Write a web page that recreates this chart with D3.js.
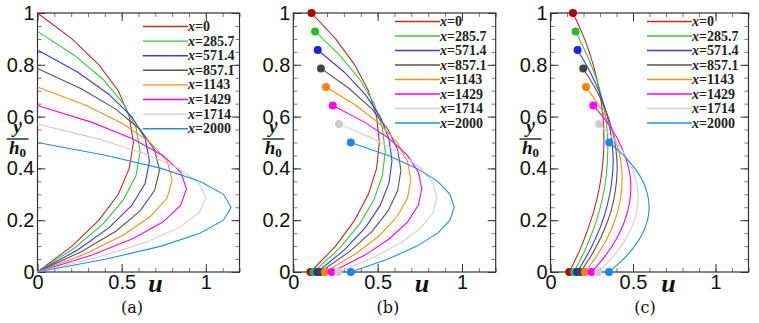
<html>
<script src="https://d3js.org/d3.v7.min.js"></script>
<style>
body{margin:0;background:#fff;}
.tick text{font-family:"Liberation Sans",Arial,sans-serif;font-size:20px;fill:#111;}
.legend text{font-family:"Liberation Serif",serif;font-size:14px;font-weight:bold;fill:#222;}
.axlab{font-family:"Liberation Serif",serif;font-weight:bold;font-style:italic;fill:#111;}
.cap{font-family:"DejaVu Serif",serif;font-size:16px;fill:#111;}
</style>
<body>
<script>
// streamwise stations and local film height y/h0 at each
const stations = ["0", "285.7", "571.4", "857.1", "1143", "1429", "1714", "2000"];
const heights = [1, 0.929, 0.857, 0.786, 0.714, 0.643, 0.571, 0.5];
// sample positions across the layer, as fraction of local height
const eta = [0, 0.1, 0.2, 0.3, 0.4, 0.5, 0.6, 0.7, 0.8, 0.9, 1];

// (a) no-slip profiles
const uA = [
  [0, 0.205, 0.365, 0.48, 0.545, 0.57, 0.545, 0.48, 0.365, 0.205, 0],
  [0, 0.22, 0.39, 0.51, 0.585, 0.61, 0.585, 0.51, 0.39, 0.22, 0],
  [0, 0.24, 0.425, 0.56, 0.64, 0.665, 0.64, 0.56, 0.425, 0.24, 0],
  [0, 0.26, 0.465, 0.61, 0.695, 0.725, 0.695, 0.61, 0.465, 0.26, 0],
  [0, 0.29, 0.51, 0.67, 0.77, 0.8, 0.77, 0.67, 0.51, 0.29, 0],
  [0, 0.32, 0.565, 0.745, 0.85, 0.885, 0.85, 0.745, 0.565, 0.32, 0],
  [0, 0.36, 0.64, 0.84, 0.96, 1.0, 0.96, 0.84, 0.64, 0.36, 0],
  [0, 0.41, 0.735, 0.965, 1.105, 1.15, 1.105, 0.965, 0.735, 0.41, 0]
];
// (b) slip at both walls
const uB = [
  [0.102, 0.251, 0.364, 0.445, 0.494, 0.51, 0.494, 0.445, 0.364, 0.251, 0.108],
  [0.12, 0.276, 0.394, 0.478, 0.528, 0.545, 0.528, 0.478, 0.394, 0.276, 0.129],
  [0.143, 0.303, 0.427, 0.515, 0.567, 0.585, 0.567, 0.515, 0.427, 0.303, 0.145],
  [0.16, 0.333, 0.467, 0.562, 0.619, 0.638, 0.619, 0.562, 0.467, 0.333, 0.164],
  [0.188, 0.373, 0.514, 0.616, 0.677, 0.697, 0.677, 0.616, 0.514, 0.373, 0.194],
  [0.228, 0.422, 0.57, 0.677, 0.741, 0.762, 0.741, 0.677, 0.57, 0.422, 0.234],
  [0.267, 0.478, 0.641, 0.758, 0.828, 0.851, 0.828, 0.758, 0.641, 0.478, 0.271],
  [0.341, 0.562, 0.733, 0.856, 0.929, 0.954, 0.929, 0.856, 0.733, 0.562, 0.341]
];
// (c) stronger slip
const uC = [
  [0.114, 0.188, 0.245, 0.288, 0.314, 0.324, 0.318, 0.296, 0.259, 0.206, 0.136],
  [0.142, 0.215, 0.272, 0.313, 0.338, 0.347, 0.342, 0.318, 0.28, 0.222, 0.152],
  [0.162, 0.24, 0.301, 0.344, 0.37, 0.38, 0.37, 0.345, 0.302, 0.241, 0.164],
  [0.182, 0.261, 0.322, 0.367, 0.393, 0.404, 0.397, 0.373, 0.332, 0.273, 0.198],
  [0.209, 0.29, 0.353, 0.398, 0.425, 0.434, 0.426, 0.399, 0.355, 0.294, 0.215],
  [0.249, 0.334, 0.4, 0.447, 0.476, 0.487, 0.479, 0.45, 0.406, 0.342, 0.259],
  [0.289, 0.376, 0.443, 0.492, 0.521, 0.531, 0.522, 0.494, 0.447, 0.381, 0.295],
  [0.354, 0.442, 0.51, 0.559, 0.588, 0.598, 0.588, 0.56, 0.511, 0.443, 0.356]
];

const xMajor = [0, 0.5, 1];
const yMajor = [0, 0.2, 0.4, 0.6, 0.8, 1];
const xMinor = [0, 0.1, 0.2, 0.3, 0.4, 0.5, 0.6, 0.7, 0.8, 0.9, 1, 1.1, 1.2];
const yMinor = [0, 0.05, 0.1, 0.15, 0.2, 0.25, 0.3, 0.35, 0.4, 0.45, 0.5, 0.55, 0.6, 0.65, 0.7, 0.75, 0.8, 0.85, 0.9, 0.95, 1];

const colors = ["#c62828", "#33cc33", "#3838f0", "#555555", "#ff8c1a", "#ff00ff", "#cfcfcf", "#1e8fe6"];
const dotColors = ["#b00000", "#22c022", "#2020e8", "#444444", "#ff8010", "#ff00ff", "#cccccc", "#1888e8"];

const W = 759, H = 323;
const yTop = 13, yBot = 272;

const panels = [
  {cap: "(a)", left: 37.5, right: 239.5, u: uA, dots: false, curve: d3.curveLinear, legX: 143, legY: 26.5, legDy: 14.6, uX: 155.5},
  {cap: "(b)", left: 293.3, right: 495.7, u: uB, dots: true, curve: d3.curveLinear, legX: 395, legY: 21.5, legDy: 14.5, uX: 422},
  {cap: "(c)", left: 550.5, right: 748.5, u: uC, dots: true, curve: d3.curveCatmullRom, legX: 647, legY: 21.5, legDy: 14.5, uX: 668.5}
];

let svg = d3.select("body").append("svg")
  .attr("width", W).attr("height", H);
svg.append("rect").attr("width", W).attr("height", H).attr("fill", "#fff");

let y = d3.scaleLinear().domain([0, 1]).range([yBot, yTop]);

panels.forEach(function(p){
  let x = d3.scaleLinear().domain([0, 1.2]).range([p.left, p.right]);
  let g = svg.append("g");

  // inward ticks on all four sides
  let minorStyle = function(sel){
    sel.select(".domain").remove();
    sel.selectAll(".tick line").attr("stroke", "#777");
  };
  g.append("g").attr("transform", `translate(0,${yBot})`)
    .call(d3.axisBottom(x).tickValues(xMinor).tickSize(-4).tickFormat("")).call(minorStyle);
  g.append("g").attr("transform", `translate(0,${yTop})`)
    .call(d3.axisTop(x).tickValues(xMinor).tickSize(-4).tickFormat("")).call(minorStyle);
  g.append("g").attr("transform", `translate(${p.left},0)`)
    .call(d3.axisLeft(y).tickValues(yMinor).tickSize(-4).tickFormat("")).call(minorStyle);
  g.append("g").attr("transform", `translate(${p.right},0)`)
    .call(d3.axisRight(y).tickValues(yMinor).tickSize(-4).tickFormat("")).call(minorStyle);

  let majorStyle = function(sel){
    sel.select(".domain").remove();
    sel.selectAll(".tick line").attr("stroke", "#333");
  };
  g.append("g").attr("transform", `translate(0,${yBot})`)
    .call(d3.axisBottom(x).tickValues(xMajor).tickSize(-8).tickPadding(3).tickFormat(d => String(d))).call(majorStyle);
  g.append("g").attr("transform", `translate(0,${yTop})`)
    .call(d3.axisTop(x).tickValues(xMajor).tickSize(-8).tickFormat("")).call(majorStyle);
  g.append("g").attr("transform", `translate(${p.left},0)`)
    .call(d3.axisLeft(y).tickValues(yMajor).tickSize(-8).tickPadding(3).tickFormat(d => String(d))).call(majorStyle);
  g.append("g").attr("transform", `translate(${p.right},0)`)
    .call(d3.axisRight(y).tickValues(yMajor).tickSize(-8).tickFormat("")).call(majorStyle);

  // frame
  g.append("rect")
    .attr("x", p.left).attr("y", yTop)
    .attr("width", p.right - p.left).attr("height", yBot - yTop)
    .attr("fill", "none").attr("stroke", "#333").attr("stroke-width", 1.2);

  // profiles
  let line = d3.line()
    .x(d => x(d.u))
    .y(d => y(d.y))
    .curve(p.curve);
  stations.forEach(function(s, i){
    let pts = eta.map((e, k) => ({u: p.u[i][k], y: e * heights[i]}));
    g.append("path")
      .datum(pts)
      .attr("d", line)
      .attr("fill", "none")
      .attr("stroke", colors[i])
      .attr("stroke-width", 1.1);
    if (p.dots){
      g.selectAll(null)
        .data([pts[0], pts[pts.length - 1]])
        .enter().append("circle")
        .attr("cx", d => x(d.u))
        .attr("cy", d => y(d.y))
        .attr("r", 4)
        .attr("fill", dotColors[i]);
    }
  });

  // legend
  let leg = g.append("g").attr("class", "legend");
  stations.forEach(function(s, i){
    let ly = p.legY + i * p.legDy;
    leg.append("line")
      .attr("x1", p.legX).attr("x2", p.legX + 45)
      .attr("y1", ly).attr("y2", ly)
      .attr("stroke", colors[i]).attr("stroke-width", 1.4);
    let t = leg.append("text").attr("x", p.legX + 45).attr("y", ly + 4.5);
    t.append("tspan").attr("font-style", "italic").text("x");
    t.append("tspan").text("=" + s);
  });

  // axis titles
  g.append("text").attr("class", "axlab")
    .attr("x", p.uX).attr("y", 292)
    .attr("text-anchor", "middle").attr("font-size", 26)
    .text("u");
  let fx = p.left - 20;
  g.append("text").attr("class", "axlab")
    .attr("x", fx).attr("y", 133)
    .attr("text-anchor", "middle").attr("font-size", 19)
    .text("y");
  g.append("line")
    .attr("x1", fx - 11).attr("x2", fx + 11)
    .attr("y1", 139).attr("y2", 139)
    .attr("stroke", "#111").attr("stroke-width", 1.3);
  let h = g.append("text").attr("class", "axlab")
    .attr("x", fx).attr("y", 154)
    .attr("text-anchor", "middle").attr("font-size", 19);
  h.append("tspan").text("h");
  h.append("tspan").attr("font-size", 13).attr("font-style", "normal").attr("dy", 3).text("0");

  g.append("text").attr("class", "cap")
    .attr("x", p.left + 94.5).attr("y", 313)
    .attr("text-anchor", "middle")
    .text(p.cap);
});
</script>
</body>
</html>
